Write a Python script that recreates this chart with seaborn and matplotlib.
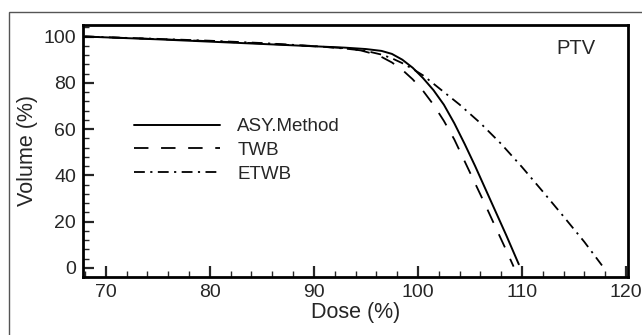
import matplotlib
matplotlib.use('Agg')
import matplotlib.pyplot as plt
import seaborn as sns
from matplotlib.patches import Rectangle
from matplotlib.ticker import MultipleLocator

asy_dose = [68, 75, 80, 85, 90, 93, 95, 96.5, 97.5, 98.5, 99.5, 100.5, 101.5, 102.5, 103.5, 104.5, 105.5, 106.5, 107.5, 108.5, 109.7]
asy_vol = [100, 98.8, 97.8, 96.8, 95.8, 95.2, 94.6, 93.8, 92.5, 90.0, 86.5, 82.0, 76.8, 70.5, 62.5, 53.5, 44.0, 34.0, 24.0, 14.0, 1.5]

twb_dose = [68, 75, 80, 85, 90, 93, 94.5, 95.5, 96.5, 97.5, 98.5, 99.5, 100.5, 101.5, 102.5, 103.5, 104.5, 105.5, 106.5, 107.5, 108.5, 109.2]
twb_vol = [100, 98.9, 98.0, 97.0, 95.8, 95.0, 94.0, 92.8, 91.2, 88.8, 85.6, 81.5, 76.5, 70.5, 63.5, 55.5, 46.0, 36.5, 27.0, 17.2, 7.5, 0.5]

etwb_dose = [68, 75, 80, 85, 90, 93, 95, 96.5, 97.5, 98.5, 99.5, 100.5, 102, 104, 106, 108, 110, 112, 114, 116, 117.7]
etwb_vol = [100, 99.0, 98.2, 97.2, 95.9, 94.8, 93.8, 92.2, 90.6, 88.5, 86.0, 83.2, 77.8, 70.6, 62.6, 53.6, 43.6, 33.0, 22.2, 11.2, 1.0]

sns.set_style('white')
plt.rcParams['font.family'] = ['Liberation Sans', 'DejaVu Sans']

fig = plt.figure(figsize=(6.42, 3.35), dpi=100)
ax = fig.add_axes([83/642, 1 - 277/335, (628 - 83)/642, (277 - 25)/335])

# outer frame of the original figure
fig.patches.append(Rectangle((9/642, -0.1), 1.1, 1 - 12/335 + 0.1, transform=fig.transFigure,
                             fill=False, edgecolor='#555555', linewidth=1.0))

sns.lineplot(x=asy_dose, y=asy_vol, ax=ax, color='black', linewidth=1.4, sort=False, label='ASY.Method')
sns.lineplot(x=twb_dose, y=twb_vol, ax=ax, color='black', linewidth=1.3, sort=False,
             linestyle=(0, (8, 7)), label='TWB')
sns.lineplot(x=etwb_dose, y=etwb_vol, ax=ax, color='black', linewidth=1.3, sort=False,
             linestyle=(0, (6, 3, 1.2, 3)), label='ETWB')

ax.set_xlim(67.8, 120.2)
ax.set_ylim(-4, 105)
ax.xaxis.set_major_locator(MultipleLocator(10))
ax.xaxis.set_minor_locator(MultipleLocator(2))
ax.yaxis.set_major_locator(MultipleLocator(20))
ax.yaxis.set_minor_locator(MultipleLocator(4))
ax.tick_params(which='major', direction='in', length=8, width=1.6, labelsize=14, pad=5,
               bottom=True, left=True, top=False, right=False)
ax.tick_params(which='minor', direction='in', length=4, width=1.0,
               bottom=True, left=True, top=False, right=False)
for s in ax.spines.values():
    s.set_linewidth(2)
    s.set_color('black')

ax.set_xlabel('Dose (%)', fontsize=15.5, labelpad=1)
ax.set_ylabel('Volume (%)', fontsize=15.5, labelpad=4)

ax.text(0.94, 0.905, 'PTV', transform=ax.transAxes, fontsize=14.5, ha='right', va='center')

ax.legend(loc='upper left', bbox_to_anchor=(0.08, 0.66), frameon=False, fontsize=13.5,
          handlelength=4.6, handletextpad=0.9, labelspacing=0.35, borderaxespad=0)

fig.savefig('out.png', dpi=100)
